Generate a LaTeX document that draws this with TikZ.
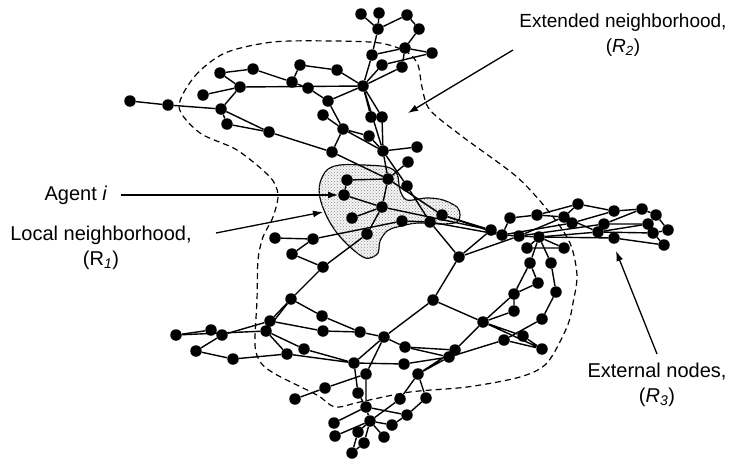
\documentclass[tikz,border=0pt]{standalone}
\usepackage{fontspec}
\setmainfont{Liberation Sans}
\usepackage{tikz}
\usetikzlibrary{arrows.meta,backgrounds,patterns}

\tikzset{
  dot/.style={circle,fill=black,inner sep=0pt,minimum size=11.5pt},
  edge/.style={line width=1.4pt},
  lbl/.style={font=\fontsize{20}{25}\selectfont,align=center,inner sep=1pt},
  arr/.style={line width=1.3pt,-{Latex[length=10pt,width=7pt]}},
}

\begin{document}
\begin{tikzpicture}[x=1pt,y=-1pt]
  \useasboundingbox (0,0) rectangle (740,459);
  % upper part
  \node[dot] (a1) at (130,101) {};
  \node[dot] (a2) at (168,105) {};
  \node[dot] (a3) at (220,73) {};
  \node[dot] (a4) at (253,69) {};
  \node[dot] (a5) at (240,87) {};
  \node[dot] (a6) at (203,95) {};
  \node[dot] (a7) at (221,109) {};
  \node[dot] (a8) at (227,124) {};
  \node[dot] (a9) at (269,132) {};
  \node[dot] (a10) at (300,65) {};
  \node[dot] (a11) at (337,70) {};
  \node[dot] (a12) at (292,82) {};
  \node[dot] (a13) at (308,88) {};
  \node[dot] (a14) at (328,101) {};
  \node[dot] (a15) at (323,115) {};
  \node[dot] (a16) at (343,129) {};
  \node[dot] (a17) at (332,152) {};
  \node[dot] (t1) at (361,14) {};
  \node[dot] (t2) at (379,13) {};
  \node[dot] (t3) at (407,15) {};
  \node[dot] (t4) at (378,29) {};
  \node[dot] (t5) at (419,29) {};
  \node[dot] (t6) at (372,55) {};
  \node[dot] (t7) at (405,48) {};
  \node[dot] (t8) at (432,53) {};
  \node[dot] (t9) at (382,65) {};
  \node[dot] (t10) at (402,67) {};
  \node[dot] (h) at (363,86) {};
  \node[dot] (b1) at (371,117) {};
  \node[dot] (b2) at (382,117) {};
  \node[dot] (b3) at (369,136) {};
  \node[dot] (b4) at (383,151) {};
  \node[dot] (b5) at (417,147) {};
  \node[dot] (b6) at (408,162) {};
  % local neighborhood
  \node[dot] (c1) at (388,179) {};
  \node[dot] (c2) at (407,186) {};
  \node[dot] (c3) at (347,180) {};
  \node[dot] (ag) at (344,195) {};
  \node[dot] (c4) at (382,207) {};
  \node[dot] (c5) at (352,218) {};
  \node[dot] (c6) at (402,221) {};
  \node[dot] (c7) at (430,222) {};
  \node[dot] (c8) at (442,215) {};
  \node[dot] (c9) at (367,234) {};
  \node[dot] (d1) at (275,238) {};
  \node[dot] (d2) at (313,239) {};
  \node[dot] (d3) at (292,254) {};
  \node[dot] (d4) at (323,267) {};
  \node[dot] (d5) at (459,257) {};
  \node[dot] (d6) at (291,299) {};
  \node[dot] (d7) at (433,300) {};
  % right cluster
  \node[dot] (r1) at (578,204) {};
  \node[dot] (r2) at (510,218) {};
  \node[dot] (r3) at (537,215) {};
  \node[dot] (r4) at (564,217) {};
  \node[dot] (r5) at (614,211) {};
  \node[dot] (r6) at (642,209) {};
  \node[dot] (r7) at (656,215) {};
  \node[dot] (r8) at (572,223) {};
  \node[dot] (r9) at (604,224) {};
  \node[dot] (r10) at (648,224) {};
  \node[dot] (r11) at (491,230) {};
  \node[dot] (r12) at (502,235) {};
  \node[dot] (r13) at (519,236) {};
  \node[dot] (r14) at (539,237) {};
  \node[dot] (r15) at (598,232) {};
  \node[dot] (r16) at (653,233) {};
  \node[dot] (r17) at (668,230) {};
  \node[dot] (r18) at (614,238) {};
  \node[dot] (r19) at (664,245) {};
  \node[dot] (r20) at (527,248) {};
  \node[dot] (r21) at (564,248) {};
  \node[dot] (r22) at (530,263) {};
  \node[dot] (r23) at (551,263) {};
  \node[dot] (r24) at (538,283) {};
  \node[dot] (r25) at (556,292) {};
  \node[dot] (r26) at (514,294) {};
  \node[dot] (f1) at (514,311) {};
  \node[dot] (f2) at (483,322) {};
  \node[dot] (f3) at (542,319) {};
  \node[dot] (f4) at (523,336) {};
  \node[dot] (f5) at (504,340) {};
  \node[dot] (f6) at (542,349) {};
  \node[dot] (f7) at (455,350) {};
  \node[dot] (f8) at (449,357) {};
  \node[dot] (f9) at (418,374) {};
  \node[dot] (f10) at (426,398) {};
  % lower part
  \node[dot] (e1) at (322,316) {};
  \node[dot] (e2) at (270,321) {};
  \node[dot] (e3) at (211,330) {};
  \node[dot] (e4) at (176,335) {};
  \node[dot] (e5) at (222,335) {};
  \node[dot] (e6) at (266,331) {};
  \node[dot] (e7) at (323,331) {};
  \node[dot] (e8) at (360,332) {};
  \node[dot] (e9) at (384,337) {};
  \node[dot] (e10) at (196,351) {};
  \node[dot] (e11) at (233,359) {};
  \node[dot] (e12) at (287,354) {};
  \node[dot] (e13) at (304,349) {};
  \node[dot] (e14) at (405,347) {};
  \node[dot] (e15) at (354,363) {};
  \node[dot] (e16) at (404,364) {};
  \node[dot] (e17) at (366,374) {};
  \node[dot] (e18) at (325,388) {};
  \node[dot] (e19) at (295,399) {};
  \node[dot] (e20) at (358,393) {};
  \node[dot] (e21) at (400,399) {};
  \node[dot] (e22) at (366,407) {};
  \node[dot] (e23) at (407,415) {};
  \node[dot] (e24) at (334,423) {};
  \node[dot] (e25) at (370,421) {};
  \node[dot] (e26) at (392,425) {};
  \node[dot] (e27) at (358,432) {};
  \node[dot] (e28) at (335,436) {};
  \node[dot] (e29) at (384,437) {};
  \node[dot] (e30) at (364,443) {};
  \node[dot] (e31) at (352,453) {};

  \begin{pgfonlayer}{background}
    % shaded local neighborhood
    \filldraw[fill=black!4,postaction={pattern=crosshatch dots,pattern color=black!45},line width=1.2pt]
      plot[smooth cycle,tension=0.55] coordinates {
      (320,183) (327,170) (340,165) (363,165) (387,167) (397,174) (400,190)
      (407,200) (427,198) (443,200) (457,207) (460,215) (457,222) (443,224)
      (417,223) (397,227) (387,231) (380,241) (378,253) (370,258) (363,257)
      (350,247) (337,233) (327,217) (320,198)};
    % extended neighborhood
    \draw[line width=1.2pt,dash pattern=on 6pt off 4pt] plot[smooth cycle,tension=0.5] coordinates {
      (179,107) (195,76) (225,53) (273,42) (333,41) (380,43) (407,52) (418,65)
      (422,87) (430,110) (463,137) (517,177) (550,213) (570,243) (577,275)
      (573,303) (567,327) (547,363) (520,377) (467,387) (410,392) (360,402)
      (335,407) (317,395) (277,375) (261,363) (255,345) (257,300) (258,260)
      (263,237) (273,217) (278,195) (270,177) (237,150) (200,133)};
    % edges
    \begin{scope}[edge]
    \draw (a1)--(a2)--(a7)--(a5)--(a3)--(a4)--(a12)--(a10)--(a11)--(h);
    \draw (a6)--(a5)--(h);
    \draw (a12)--(a13)--(a14)--(h);
    \draw (a14)--(a16)--(a17);
    \draw (a15)--(a16)--(b3)--(b4)--(a16);
    \draw (a7)--(a8)--(a9)--(a17);
    \draw (a7)--(a9);
    \draw (t1)--(t4)--(t2);
    \draw (t4)--(t3)--(t5)--(t7)--(t8);
    \draw (t4)--(t6)--(t7);
    \draw (t6)--(h)--(t9)--(t8);
    \draw (h)--(t10)--(t7);
    \draw (h)--(b1);
    \draw (h)--(b2)--(b4)--(h);
    \draw (b4)--(b5);
    \draw (b4)--(c1);
    \draw (b4)--(c2)--(c7);
    \draw (b6)--(c1)--(a17);
    \draw (c3)--(c1)--(c4);
    \draw (c3)--(ag)--(c4)--(c5);
    \draw (c4)--(c9)--(d4)--(d3)--(d2)--(d1);
    \draw (d2)--(c6)--(c7)--(d5)--(d7);
    \draw (c1)--(c8)--(r11);
    \draw (c8)--(r12);
    \draw (c4)--(r11);
    \draw (c7)--(r12);
    \draw (d5)--(r11);
    \draw (d5)--(r13);
    \draw (d4)--(d6);
    \draw (r11)--(r12)--(r13)--(r14)--(r18)--(r19)--(r16)--(r17)--(r7)--(r6)--(r5)--(r1)--(r3)--(r2)--(r12);
    \draw (r3)--(r4)--(r1);
    \draw (r13)--(r4)--(r15);
    \draw (r12)--(r8)--(r5);
    \draw (r13)--(r9)--(r6);
    \draw (r9)--(r10)--(r7);
    \draw (r14)--(r15)--(r16);
    \draw (r15)--(r10);
    \draw (r14)--(r20)--(r21)--(r14);
    \draw (r14)--(r22)--(r24)--(r26)--(r22);
    \draw (r14)--(r23)--(r25)--(f3)--(f5)--(f6)--(f4)--(f2)--(f6);
    \draw (r26)--(f1)--(f2)--(r26);
    \draw (d7)--(f2)--(f7);
    \draw (f5)--(f8);
    \draw (d6)--(e2)--(e7)--(e8)--(e9)--(d7);
    \draw (d6)--(e6);
    \draw (d6)--(e1)--(e8);
    \draw (e4)--(e3)--(e5)--(e2);
    \draw (e4)--(e6)--(e12)--(e11)--(e10)--(e5);
    \draw (e6)--(e13)--(e15)--(e12);
    \draw (e9)--(e14)--(f7)--(f9)--(f8)--(e16)--(e15)--(e9)--(e17)--(e22)--(e20)--(e15);
    \draw (e14)--(f8);
    \draw (e19)--(e18)--(e17);
    \draw (f9)--(f10)--(e23)--(e22)--(e24);
    \draw (f9)--(e21)--(e25)--(e22);
    \draw (e28)--(e25)--(e27)--(e31)--(e30)--(e25)--(e29);
    \draw (e25)--(e26)--(e23);
    \end{scope}
  \end{pgfonlayer}

  % labels and pointers
  \node[lbl,font=\fontsize{19}{25}\selectfont] (exttxt) at (623,35) {Extended neighborhood,\\(\textit{R}\textsubscript{\textit{2}})};
  \node[lbl] (agtxt) at (76,195) {Agent \textit{i}};
  \node[lbl] (loctxt) at (101,248) {Local neighborhood,\\(R\textsubscript{\textit{1}})};
  \node[lbl] (outtxt) at (657,385) {External nodes,\\(\textit{R}\textsubscript{\textit{3}})};
  \coordinate (extfrom) at (513,50);
  \coordinate (exttip) at (408,113);
  \coordinate (locfrom) at (216,233);
  \coordinate (loctip) at (323,212);
  \coordinate (outfrom) at (657,354);
  \coordinate (outtip) at (616,251);
  \draw[arr] (extfrom) -- (exttip);
  \draw[arr,shorten <=12pt] (agtxt.east) -- (ag);
  \draw[arr] (locfrom) -- (loctip);
  \draw[arr] (outfrom) -- (outtip);
\end{tikzpicture}
\end{document}
